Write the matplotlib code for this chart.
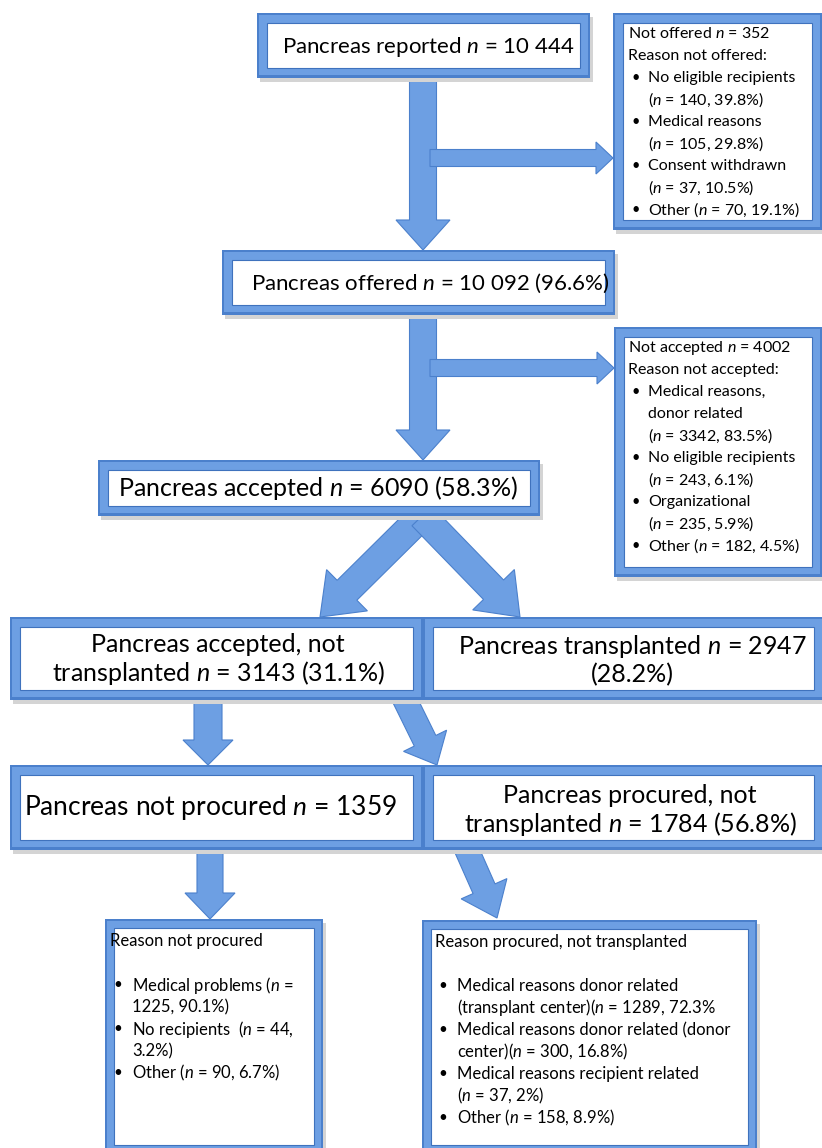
import matplotlib
matplotlib.use("Agg")
import matplotlib.pyplot as plt
from matplotlib.patches import Rectangle, FancyArrow

plt.rcParams['font.family'] = ['Lato', 'DejaVu Sans']
plt.rcParams['mathtext.fontset'] = 'custom'
plt.rcParams['mathtext.it'] = 'Lato:italic'
plt.rcParams['mathtext.rm'] = 'Lato'

# flow counts
reported = "10 444"
offered = ("10 092", "96.6%")
accepted = ("6090", "58.3%")
acc_not_tx = ("3143", "31.1%")
transplanted = ("2947", "28.2%")
not_procured = "1359"
procured_not_tx = ("1784", "56.8%")

not_offered_n = 352
not_offered_reasons = [("No eligible recipients", 140, "39.8%"),
                       ("Medical reasons", 105, "29.8%"),
                       ("Consent withdrawn", 37, "10.5%"),
                       ("Other", 70, "19.1%")]

not_accepted_n = 4002
not_accepted_reasons = [("Medical reasons,\ndonor related", 3342, "83.5%"),
                        ("No eligible recipients", 243, "6.1%"),
                        ("Organizational", 235, "5.9%"),
                        ("Other", 182, "4.5%")]

not_procured_lines = ["Medical problems ($n$ =\n1225, 90.1%)",
                      "No recipients  ($n$ = 44,\n3.2%)",
                      "Other ($n$ = 90, 6.7%)"]

procured_lines = ["Medical reasons donor related\n(transplant center)($n$ = 1289, 72.3%",
                  "Medical reasons donor related (donor\ncenter)($n$ = 300, 16.8%)",
                  "Medical reasons recipient related\n($n$ = 37, 2%)",
                  "Other ($n$ = 158, 8.9%)"]

BLUE_D = '#4b80cc'
BLUE_M = '#6d9fe3'
BLUE_L = '#8fb9ef'


def frame(ax, x0, y0, x1, y1, bw=10):
    ax.add_patch(Rectangle((x0 + 3, y0 + 4), x1 - x0, y1 - y0, fc='#d4d4d4', ec='none', zorder=2))
    ax.add_patch(Rectangle((x0, y0), x1 - x0, y1 - y0, fc=BLUE_D, ec='none', zorder=3))
    ax.add_patch(Rectangle((x0 + 2, y0 + 2), x1 - x0 - 4, y1 - y0 - 5, fc=BLUE_M, ec='none', zorder=3))
    ax.add_patch(Rectangle((x0 + bw, y0 + bw), x1 - x0 - 2 * bw, y1 - y0 - 2 * bw,
                           fc='white', ec='#3f72bd', lw=0.8, zorder=4))


def arrow(ax, x0, y0, x1, y1, w, hw, hl):
    ax.add_patch(FancyArrow(x0, y0, x1 - x0, y1 - y0, width=w, head_width=hw, head_length=hl,
                            length_includes_head=True, fc=BLUE_M, ec=BLUE_D, lw=0.8, zorder=1))


def side_list(ax, x, y, header, items, step=22, fs=11.5, indent=20):
    for line in header:
        ax.text(x, y, line, fontsize=fs, va='center', ha='left', zorder=5)
        y += step
    for txt in items:
        ax.text(x + 3, y, '•', fontsize=fs - 1, va='center', ha='left', zorder=5)
        for part in txt.split('\n'):
            ax.text(x + indent, y, part, fontsize=fs, va='center', ha='left', zorder=5)
            y += step


fig = plt.figure(figsize=(8.22, 11.48), dpi=100)
ax = fig.add_axes([0, 0, 1, 1])
ax.set_xlim(0, 822)
ax.set_ylim(1148, 0)
ax.axis('off')

# arrows
arrow(ax, 423, 75, 423, 250, 27, 54, 30)
arrow(ax, 430, 158, 613, 158, 17, 32, 17)
arrow(ax, 423, 312, 423, 460, 27, 54, 30)
arrow(ax, 430, 368, 614, 368, 17, 32, 17)
arrow(ax, 422, 516, 320, 617, 28, 58, 38)
arrow(ax, 422, 516, 520, 617, 28, 58, 38)
arrow(ax, 208, 698, 208, 765, 28, 50, 25)
arrow(ax, 404, 698, 437, 765, 24, 48, 27)
arrow(ax, 210, 848, 210, 919, 26, 50, 26)
arrow(ax, 466, 848, 497, 918, 24, 50, 32)

# main boxes
frame(ax, 257, 13, 590, 78)
frame(ax, 222, 250, 615, 315)
frame(ax, 98, 460, 540, 516)
frame(ax, 10, 617, 423, 700)
frame(ax, 423, 617, 824, 700)
frame(ax, 10, 765, 423, 850)
frame(ax, 423, 765, 824, 850)

fs_s = 16
fs_l = 18
ax.text(428, 47, "Pancreas reported $n$ = " + reported, fontsize=fs_s, ha='center', va='center', zorder=5)
ax.text(430, 283, "Pancreas offered $n$ = %s (%s)" % offered, fontsize=fs_s, ha='center', va='center', zorder=5)
ax.text(318, 488, "Pancreas accepted $n$ = %s (%s)" % accepted, fontsize=fs_l, ha='center', va='center', zorder=5)
ax.text(218, 660, "Pancreas accepted, not\ntransplanted $n$ = %s (%s)" % acc_not_tx, fontsize=fs_l,
        ha='center', va='center', linespacing=1.15, zorder=5)
ax.text(632, 660, "Pancreas transplanted $n$ = %s\n(%s)" % transplanted, fontsize=fs_l,
        ha='center', va='center', linespacing=1.15, zorder=5)
ax.text(210, 808, "Pancreas not procured $n$ = " + not_procured, fontsize=19, ha='center', va='center', zorder=5)
ax.text(630, 811, "Pancreas procured, not\ntransplanted $n$ = %s (%s)" % procured_not_tx, fontsize=fs_l,
        ha='center', va='center', linespacing=1.15, zorder=5)

# side boxes
frame(ax, 613, 13, 822, 230)
side_list(ax, 628, 34, ["Not offered $n$ = %d" % not_offered_n, "Reason not offered:"],
          ["%s\n($n$ = %d, %s)" % r for r in not_offered_reasons[:3]] +
          ["%s ($n$ = %d, %s)" % not_offered_reasons[3]])

frame(ax, 614, 327, 822, 577)
side_list(ax, 628, 348, ["Not accepted $n$ = %d" % not_accepted_n, "Reason not accepted:"],
          ["%s\n($n$ = %d, %s)" % r for r in not_accepted_reasons[:3]] +
          ["%s ($n$ = %d, %s)" % not_accepted_reasons[3]])

# bottom boxes
frame(ax, 105, 919, 323, 1154, bw=9)
side_list(ax, 110, 941, ["Reason not procured", ""], not_procured_lines, fs=12, indent=22)

frame(ax, 422, 920, 757, 1154, bw=9)
side_list(ax, 435, 942, ["Reason procured, not transplanted", ""], procured_lines, fs=12, indent=22)

fig.savefig("out.png", dpi=100)
